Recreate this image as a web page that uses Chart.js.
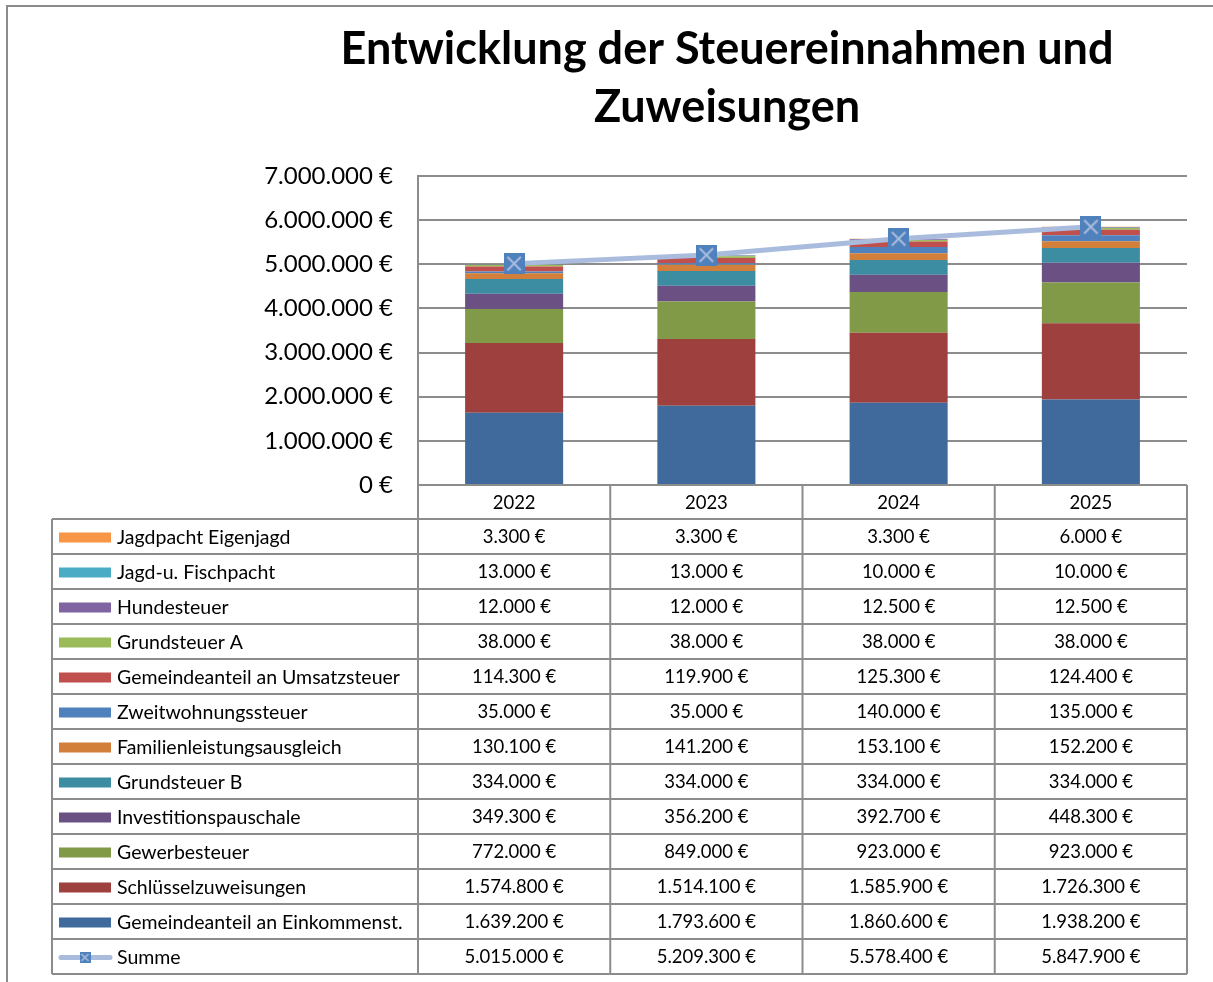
<!DOCTYPE html>
<html>
<head>
<meta charset="utf-8">
<script src="https://cdn.jsdelivr.net/npm/chart.js@4"></script>
<style>
  html, body { margin: 0; padding: 0; background: #fff; }
  #wrap { width: 1213px; height: 982px; position: relative; }
</style>
</head>
<body>
<div id="wrap"><canvas id="taxChart"></canvas></div>
<script>
const years = ['2022', '2023', '2024', '2025'];

// stack order, bottom to top
const einkommenst = [1639200, 1793600, 1860600, 1938200];
const schluessel = [1574800, 1514100, 1585900, 1726300];
const gewerbe = [772000, 849000, 923000, 923000];
const invest = [349300, 356200, 392700, 448300];
const grundB = [334000, 334000, 334000, 334000];
const familien = [130100, 141200, 153100, 152200];
const zweitwohn = [35000, 35000, 140000, 135000];
const umsatz = [114300, 119900, 125300, 124400];
const grundA = [38000, 38000, 38000, 38000];
const hunde = [12000, 12000, 12500, 12500];
const jagdFisch = [13000, 13000, 10000, 10000];
const jagdEigen = [3300, 3300, 3300, 6000];
const summe = [5015000, 5209300, 5578400, 5847900];

const yTicks = [0, 1000000, 2000000, 3000000, 4000000, 5000000, 6000000, 7000000];

const FONT = 'Lato, "Open Sans", sans-serif';

function fmt(v) {
    return String(v).replace(/\B(?=(\d{3})+(?!\d))/g, '.') + ' €';
}

// marker for the Summe line: blue square with a light X
function makeMarker(size) {
    const c = document.createElement('canvas');
    c.width = size; c.height = size;
    const g = c.getContext('2d');
    g.fillStyle = '#4F81BD';
    g.fillRect(0, 0, size, size);
    g.strokeStyle = '#A9BCDD';
    g.lineWidth = Math.max(1.5, size / 10);
    g.beginPath();
    g.moveTo(size * 0.18, size * 0.18); g.lineTo(size * 0.82, size * 0.82);
    g.moveTo(size * 0.82, size * 0.18); g.lineTo(size * 0.18, size * 0.82);
    g.stroke();
    return c;
}
const bigMarker = makeMarker(21);
const smallMarker = makeMarker(11);

const barSeries = [
    { label: 'Gemeindeanteil an Einkommenst.', data: einkommenst, color: '#416A9C' },
    { label: 'Schlüsselzuweisungen', data: schluessel, color: '#9E413E' },
    { label: 'Gewerbesteuer', data: gewerbe, color: '#809A48' },
    { label: 'Investitionspauschale', data: invest, color: '#6A5083' },
    { label: 'Grundsteuer B', data: grundB, color: '#3C8CA2' },
    { label: 'Familienleistungsausgleich', data: familien, color: '#D17F3A' },
    { label: 'Zweitwohnungssteuer', data: zweitwohn, color: '#4F81BD' },
    { label: 'Gemeindeanteil an Umsatzsteuer', data: umsatz, color: '#C0504D' },
    { label: 'Grundsteuer A', data: grundA, color: '#9BBB59' },
    { label: 'Hundesteuer', data: hunde, color: '#8064A2' },
    { label: 'Jagd-u. Fischpacht', data: jagdFisch, color: '#4BACC6' },
    { label: 'Jagdpacht Eigenjagd', data: jagdEigen, color: '#F79646' }
];

const datasets = barSeries.map(s => ({
    type: 'bar',
    label: s.label,
    data: s.data,
    backgroundColor: s.color,
    borderWidth: 0,
    order: 1,
    stack: 'steuern'
}));
datasets.push({
    type: 'line',
    label: 'Summe',
    data: summe,
    borderColor: '#A9BCDD',
    borderWidth: 5,
    pointStyle: bigMarker,
    pointRadius: 10,
    tension: 0,
    order: 0,
    stack: 'summe'
});

// title, outer frame and data table (Excel style)
const tablePlugin = {
    id: 'excelTable',
    afterDraw(chart) {
        const ctx = chart.ctx;
        const area = chart.chartArea;
        const x = chart.scales.x;
        const colW = (area.right - area.left) / years.length;
        const rowH = 35;
        const headTop = area.bottom;
        const headBottom = headTop + 34;
        const tableLeft = 52;
        const rows = barSeries.slice().reverse().map(s => ({ label: s.label, data: s.data, color: s.color }));
        rows.push({ label: 'Summe', data: summe, line: true });
        const tableBottom = headBottom + rows.length * rowH;

        ctx.save();
        // outer frame
        ctx.strokeStyle = '#8C8C8C';
        ctx.lineWidth = 2;
        ctx.strokeRect(7, 6, 1300, 1100);

        // title
        ctx.fillStyle = '#000';
        ctx.font = 'bold 45px ' + FONT;
        ctx.textAlign = 'center';
        ctx.textBaseline = 'middle';
        ctx.fillText('Entwicklung der Steuereinnahmen und', 727, 49);
        ctx.fillText('Zuweisungen', 727, 107);

        // grid of the table
        ctx.strokeStyle = '#8C8C8C';
        ctx.lineWidth = 2;
        ctx.beginPath();
        for (let i = 0; i <= years.length; i++) {
            const px = area.left + i * colW;
            ctx.moveTo(px, headTop);
            ctx.lineTo(px, tableBottom);
        }
        ctx.moveTo(tableLeft, headBottom);
        ctx.lineTo(tableLeft, tableBottom);
        for (let r = 0; r <= rows.length; r++) {
            const py = headBottom + r * rowH;
            ctx.moveTo(tableLeft, py);
            ctx.lineTo(area.right, py);
        }
        ctx.stroke();

        // header
        ctx.font = '18.5px ' + FONT;
        ctx.fillStyle = '#000';
        ctx.textAlign = 'center';
        years.forEach((y, i) => {
            ctx.fillText(y, x.getPixelForValue(i), (headTop + headBottom) / 2 + 1);
        });

        // rows
        rows.forEach((row, r) => {
            const cy = headBottom + r * rowH + rowH / 2 + 1;
            if (row.line) {
                ctx.strokeStyle = '#A9BCDD';
                ctx.lineWidth = 5;
                ctx.lineCap = 'round';
                ctx.beginPath();
                ctx.moveTo(61, cy);
                ctx.lineTo(110, cy);
                ctx.stroke();
                ctx.drawImage(smallMarker, 85 - 5.5, cy - 5.5);
            } else {
                ctx.fillStyle = row.color;
                ctx.fillRect(59, cy - 5, 52, 10);
            }
            ctx.fillStyle = '#000';
            ctx.textAlign = 'left';
            ctx.font = '19.5px ' + FONT;
            ctx.fillText(row.label, 117, cy);
            ctx.textAlign = 'center';
            ctx.font = '18.5px ' + FONT;
            row.data.forEach((v, i) => {
                ctx.fillText(fmt(v), x.getPixelForValue(i), cy);
            });
        });
        ctx.restore();
    }
};

const chart = new Chart(document.getElementById('taxChart'), {
    type: 'bar',
    data: { labels: years, datasets: datasets },
    options: {
        responsive: true,
        maintainAspectRatio: false,
        animation: false,
        layout: { padding: { top: 176, right: 26, bottom: 497, left: 0 } },
        datasets: {
            bar: { categoryPercentage: 1.0, barPercentage: 0.51 }
        },
        scales: {
            x: {
                stacked: true,
                display: false
            },
            y: {
                stacked: true,
                min: 0,
                max: 7000000,
                afterFit(scale) { scale.width = 418; },
                afterBuildTicks(scale) { scale.ticks = yTicks.map(v => ({ value: v })); },
                border: { display: true, color: '#8C8C8C', width: 2 },
                grid: { color: '#8C8C8C', lineWidth: 2, drawTicks: false },
                ticks: {
                    padding: 25,
                    color: '#000',
                    font: { family: FONT, size: 24 },
                    callback: v => fmt(v)
                }
            }
        },
        plugins: {
            legend: { display: false },
            title: { display: false },
            tooltip: { enabled: false }
        }
    },
    plugins: [tablePlugin]
});
</script>
</body>
</html>
